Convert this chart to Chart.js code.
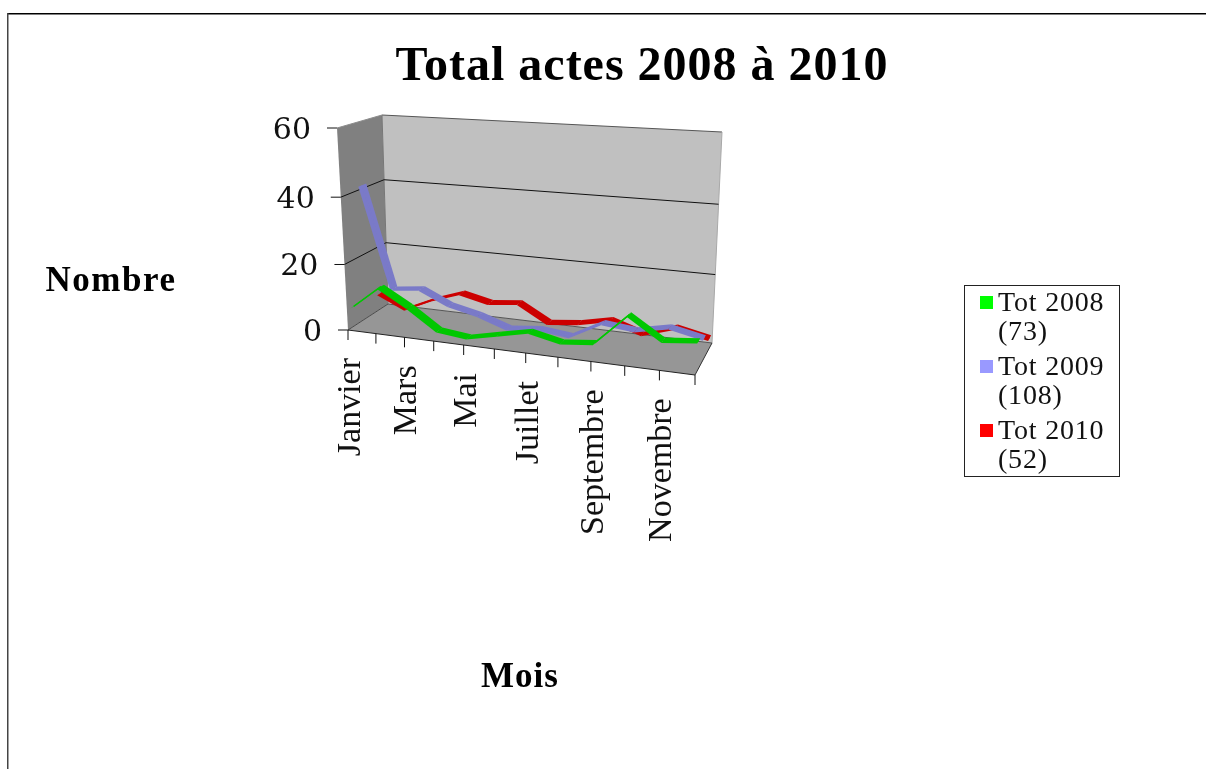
<!DOCTYPE html>
<html>
<head>
<meta charset="utf-8">
<title>Total actes 2008 à 2010</title>
<style>
html, body { margin: 0; background: #fff; }
canvas { display: block; }
</style>
<script src="https://cdn.jsdelivr.net/npm/chart.js@4"></script>
</head>
<body>
<canvas id="chart" width="1206" height="769"></canvas>
<script>
const months = ["Janvier","Février","Mars","Avril","Mai","Juin","Juillet","Août","Septembre","Octobre","Novembre","Décembre"];
const tot2008 = [6,13,8,2,1,3,5,3,4,13,7,8];
const tot2009 = [41,10,11,7,5,2,3,2,7,6,8,6];
const tot2010 = [5,1,5,8,6,7,2,3,5,2,5,3];
const legendLabels = [["Tot 2008","(73)"],["Tot 2009","(108)"],["Tot 2010","(52)"]];
const legendColors = ["#00ff00","#9999ff","#ff0000"];
const lineColors = ["#00c800","#7a7ac8","#cc0000"];
const seriesDepths = [1/6, 1/2, 5/6];

const SERIF = '"Liberation Serif"';
const RIBBON = 0.09; // half the width of a ribbon, as a share of the floor depth

// box corners on screen, F/B = front/back, B/T = bottom/top, L/R = left/right
const box = {
  FBL:[348,330], BBL:[388,304], FBR:[695,375], BBR:[712,343],
  FTL:[337,128], BTL:[382,115], FTR:[702,149], BTR:[722,132]
};
const warp = (t, c) => t * (1 - c) / (1 - c * t);
const mix = (a, b, t) => [a[0] + (b[0] - a[0]) * t, a[1] + (b[1] - a[1]) * t];

// scale pixel + depth -> position inside the fake 3d box
function project(chart, px, py, depth) {
  const a = chart.chartArea;
  const u = warp((px - a.left) / a.width, 0.125);
  const v = warp((a.bottom - py) / a.height, 0.04);
  const bottom = mix(mix(box.FBL, box.FBR, u), mix(box.BBL, box.BBR, u), depth);
  const top = mix(mix(box.FTL, box.FTR, u), mix(box.BTL, box.BTR, u), depth);
  return mix(bottom, top, v);
}

function poly(ctx, pts, fill, stroke) {
  ctx.beginPath();
  pts.forEach((p, i) => i ? ctx.lineTo(p[0], p[1]) : ctx.moveTo(p[0], p[1]));
  ctx.closePath();
  if (fill) { ctx.fillStyle = fill; ctx.fill(); }
  if (stroke) { ctx.strokeStyle = stroke; ctx.lineWidth = 1; ctx.stroke(); }
}
function seg(ctx, a, b, color, width) {
  ctx.beginPath();
  ctx.moveTo(a[0], a[1]);
  ctx.lineTo(b[0], b[1]);
  ctx.strokeStyle = color;
  ctx.lineWidth = width || 1;
  ctx.stroke();
}

const box3d = {
  id: "box3d",
  afterLayout(chart) {
    // title sits over the plot, not over the page
    chart.titleBlock.left = 300;
    chart.titleBlock.right = 984;
  },
  beforeDraw(chart) {
    chart.ctx.letterSpacing = "1px"; // the title is drawn with this
  },
  beforeDatasetsDraw(chart) {
    const ctx = chart.ctx, xs = chart.scales.x, ys = chart.scales.y;
    ctx.letterSpacing = "0px";
    ctx.save();
    // page frame
    ctx.fillStyle = "#000";
    ctx.fillRect(7, 13, 1199, 1.5);
    ctx.fillStyle = "#444";
    ctx.fillRect(7, 13, 1.5, 756);

    poly(ctx, [box.BBL, box.BBR, box.BTR, box.BTL], "#c0c0c0");
    poly(ctx, [box.FBL, box.BBL, box.BTL, box.FTL], "#808080");
    poly(ctx, [box.FBL, box.FBR, box.BBR, box.BBL], "#969696");

    seg(ctx, box.BTL, box.BTR, "#555");
    seg(ctx, box.BTR, box.BBR, "#a8a8a8");
    seg(ctx, box.BBL, box.BTL, "#777");
    seg(ctx, box.FTL, box.BTL, "#8c8c8c");
    seg(ctx, box.FBL, box.BBL, "#4a4a4a");
    seg(ctx, box.BBL, box.BBR, "#555");
    seg(ctx, box.FBL, box.FBR, "#222");
    seg(ctx, box.FBR, box.BBR, "#333");

    // value axis, walls and labels
    ctx.font = '30px "DejaVu Serif"';
    ctx.textAlign = "right";
    ctx.textBaseline = "middle";
    ys.ticks.forEach(t => {
      const py = ys.getPixelForValue(t.value);
      const f = project(chart, xs.left, py, 0);
      const b = project(chart, xs.left, py, 1);
      const r = project(chart, xs.right, py, 1);
      if (t.value > 0 && t.value < 60) {
        seg(ctx, f, b, "#111");
        seg(ctx, b, r, "#111");
      }
      seg(ctx, [f[0] - 10, f[1]], f, "#111");
      ctx.fillStyle = "#111";
      ctx.fillText(String(t.value), f[0] - 26, f[1] + 3);
    });

    // category axis: every tick, every other label
    ctx.font = "34px " + SERIF;
    xs.ticks.forEach((t, i) => {
      const p = project(chart, xs.getPixelForTick(i), ys.bottom, 0);
      seg(ctx, p, [p[0], p[1] + 10], "#111");
      if (i % 2 === 0) {
        ctx.save();
        ctx.translate(p[0] + 3, p[1] + 28);
        ctx.rotate(-Math.PI / 2);
        ctx.fillStyle = "#111";
        ctx.fillText(months[i], 0, 0);
        ctx.restore();
      }
    });

    // axis titles
    ctx.fillStyle = "#000";
    ctx.textAlign = "center";
    ctx.font = "bold 35px " + SERIF;
    ctx.letterSpacing = "1.5px";
    ctx.fillText("Nombre", 111, 282);
    ctx.letterSpacing = "1px";
    ctx.fillText("Mois", 520, 678);
    ctx.letterSpacing = "0px";

    // legend
    ctx.fillStyle = "#fff";
    ctx.fillRect(964.5, 285.5, 155, 191);
    ctx.strokeStyle = "#222";
    ctx.lineWidth = 1;
    ctx.strokeRect(964.5, 285.5, 155, 191);
    ctx.textAlign = "left";
    ctx.font = "28px " + SERIF;
    ctx.letterSpacing = "0.8px";
    legendLabels.forEach((lines, i) => {
      const y = 302 + i * 64;
      ctx.fillStyle = legendColors[i];
      ctx.fillRect(980, y - 6, 13, 13);
      ctx.fillStyle = "#111";
      ctx.fillText(lines[0], 998, y + 2);
      ctx.fillText(lines[1], 998, y + 31);
    });
    ctx.letterSpacing = "0px";
    ctx.restore();
  },
  // each line is a flat ribbon lying in the depth of the box
  beforeDatasetDraw(chart, args) {
    const ctx = chart.ctx, xs = chart.scales.x, ys = chart.scales.y;
    const ds = chart.data.datasets[args.index];
    const depth = seriesDepths[args.index];
    const at = (i, d) => project(chart, xs.getPixelForValue(i), ys.getPixelForValue(ds.data[i]), d);
    args.meta.data.forEach((el, i) => {
      const p = at(i, depth);
      el.x = p[0];
      el.y = p[1];
    });
    args.meta.dataset._path = undefined;
    ctx.save();
    for (let i = 0; i < ds.data.length - 1; i++) {
      poly(ctx, [at(i, depth - RIBBON), at(i + 1, depth - RIBBON), at(i + 1, depth + RIBBON), at(i, depth + RIBBON)],
        ds.borderColor, null);
    }
    ctx.restore();
  }
};

new Chart(document.getElementById("chart"), {
  type: "line",
  data: {
    labels: months,
    datasets: [
      { label: "Tot 2008 (73)", data: tot2008, borderColor: lineColors[0], backgroundColor: legendColors[0] },
      { label: "Tot 2009 (108)", data: tot2009, borderColor: lineColors[1], backgroundColor: legendColors[1] },
      { label: "Tot 2010 (52)", data: tot2010, borderColor: lineColors[2], backgroundColor: legendColors[2] }
    ]
  },
  options: {
    responsive: false,
    animation: false,
    events: [],
    clip: false,
    layout: { padding: { left: 340, right: 480, top: 0, bottom: 390 } },
    elements: {
      point: { radius: 0 },
      line: { borderWidth: 1.5, tension: 0, borderJoinStyle: "round" }
    },
    scales: {
      x: { display: false, type: "category", offset: false, ticks: { autoSkip: false } },
      y: { display: false, min: 0, max: 60, ticks: { stepSize: 20 } }
    },
    plugins: {
      legend: { display: false },
      tooltip: { enabled: false },
      title: {
        display: true,
        text: "Total actes 2008 à 2010",
        color: "#000",
        font: { family: "Liberation Serif", size: 48, weight: "bold" },
        padding: { top: 39, bottom: 0 }
      }
    }
  },
  plugins: [box3d]
});
</script>
</body>
</html>
